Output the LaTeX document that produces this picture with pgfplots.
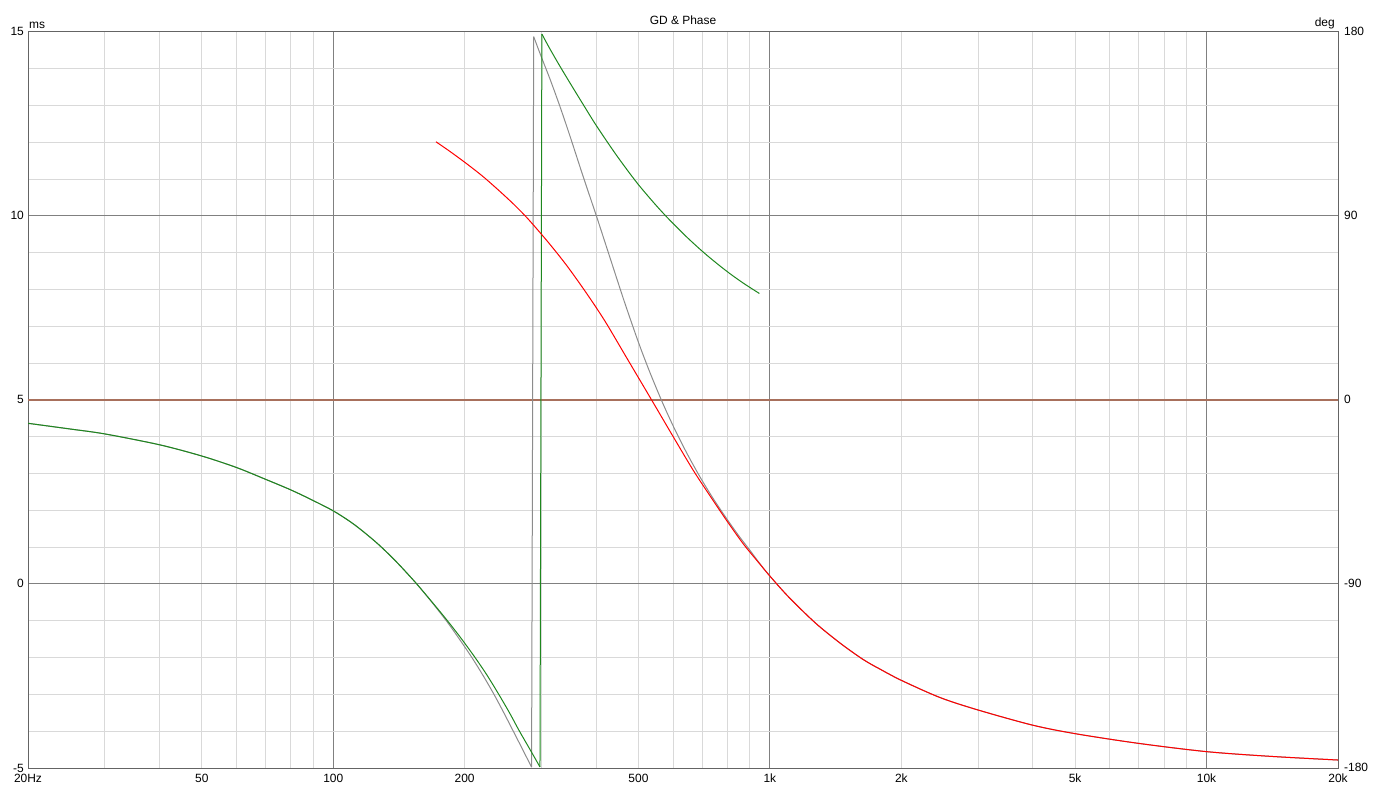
\documentclass[border=0pt]{standalone}
\usepackage{pgfplots}
\pgfplotsset{compat=1.18}
\usepackage{fontspec}
\setmainfont{Liberation Sans}
\definecolor{majgrid}{RGB}{128,128,128}
\definecolor{mingrid}{RGB}{217,217,217}
\definecolor{framec}{RGB}{100,100,100}
\definecolor{phgreen}{RGB}{30,135,30}
\definecolor{phgray}{RGB}{140,140,140}
\definecolor{phred}{RGB}{255,0,0}
\definecolor{brownline}{RGB}{168,112,92}
\begin{document}
\begin{tikzpicture}[font=\fontsize{12}{14}\selectfont]
\path[use as bounding box] (0,0) rectangle (1373bp,806bp);
\begin{axis}[name=main,
  at={(28bp,38bp)}, anchor=south west, scale only axis, width=1310bp, height=736bp,
  xmode=log, xmin=20, xmax=20000, ymin=-5, ymax=15,
  xtick={100,1000,10000}, xticklabels={,,},
  minor xtick={30,40,50,60,70,80,90,200,300,400,500,600,700,800,900,2000,3000,4000,5000,6000,7000,8000,9000},
  extra x ticks={20,50,100,200,500,1000,2000,5000,10000,20000},
  extra x tick labels={20Hz,50,100,200,500,1k,2k,5k,10k,20k},
  extra x tick style={grid=none},
  ytick={-5,0,5,10,15}, yticklabels={-5,0,5,10,15},
  minor ytick={-4,-3,-2,-1,1,2,3,4,6,7,8,9,11,12,13,14},
  grid=both,
  major grid style={draw=majgrid, line width=1bp},
  minor grid style={draw=mingrid, line width=1bp},
  tick style={draw=none}, major tick length=0pt, minor tick length=0pt,
  axis line style={draw=framec, line width=1bp},
  xticklabel style={anchor=base, inner sep=0pt, yshift=-14bp},
  yticklabel style={anchor=base east, inner sep=0pt, xshift=-4bp, yshift=-4bp},
]
\addplot[draw=none] coordinates {(20,0)(20000,0)};
\end{axis}
\begin{axis}[
  at={(28bp,38bp)}, anchor=south west, scale only axis, width=1310bp, height=736bp,
  xmode=log, xmin=20, xmax=20000, ymin=-180, ymax=180,
  xtick=\empty, ytick={-180,-90,0,90,180}, yticklabels={-180,-90,0,90,180},
  yticklabel pos=right, axis line style={draw=none}, tick style={draw=none}, major tick length=0pt,
  yticklabel style={anchor=base west, inner sep=0pt, xshift=6bp, yshift=-4bp},
]
\addplot[brownline, line width=1.8bp] coordinates {(20,0)(20000,0)};
% gray phase
\addplot[phgray, line width=1bp, smooth] coordinates {
(20,-11.4)(25,-14.2)(30,-16.6)(40,-21.9)(50,-27.4)(60,-33.0)(70,-38.8)(80,-44.0)(90,-49.2)(100.7,-54.6)(112,-61.1)(125.8,-69.9)(139,-78.8)(153.9,-89.0)
(167,-98.1)(181.9,-108.2)(195,-117.3)(208.4,-126.4)(221,-135.2)(234,-144.4)(246,-153.1)(259,-162.4)(272,-171.3)(284.6,-179.6)};
\addplot[phgray, line width=1bp] coordinates {(284.6,-179.6)(287.8,177.7)};
\addplot[phgray, line width=1bp, smooth] coordinates {
(287.8,177.7)(300,167.5)(313.6,157)(330,144)(348,129.5)(372,110.5)(401,89.7)(422,75.2)(445.7,59.6)(465.7,47.2)(499.6,28.4)(530,14.0)(565,-0.3)(600.8,-12.8)(645,-25.9)(691.6,-37.6)(740,-47.9)(796,-58.0)(850,-66.6)(900,-73.5)(948,-80.0)
(997,-85.8)(1100,-96)(1270,-109)(1450,-119)(1637,-127)(1800,-132)(2003,-137.2)(2450,-145.5)(2983,-151.5)(3989,-159)(5000,-163.2)(6958,-167.9)(10000,-172)(14000,-174.3)(20000,-176.1)};
% green phase
\addplot[phgreen, line width=1bp, smooth] coordinates {
(20,-11.4)(25,-14.2)(30,-16.6)(40,-21.9)(50,-27.4)(60,-33.0)(70,-38.8)(80,-44.0)(90,-49.2)(100.7,-54.6)(112,-61.1)(125.8,-69.9)(139,-78.8)(153.9,-89.0)
(167,-97.9)(181.9,-107.5)(196,-116.4)(211,-125.8)(225,-134.6)(238.8,-143.6)(253,-152.8)(267,-162.0)(282,-170.8)(297.5,-179.5)};
\addplot[phgreen, line width=1bp] coordinates {(297.5,-179.5)(300.5,179.0)};
\addplot[phgreen, line width=1bp, smooth] coordinates {
(300.5,179.0)(313,172.0)(330,163.5)(348,155.3)(372,145.2)(401,134.0)(445.7,119.6)(495,106.5)(540,96.9)(580,89.6)(640,80.4)(704,72.3)(760,66.4)(810,61.8)(870,57.1)(946,52.1)};
% red
\addplot[phred, line width=1bp, smooth] coordinates {
(171.9,126.3)(185,121.6)(202,115.6)(220,109.4)(240.9,102.0)(260,95.4)(279.8,88.4)(310,77.4)(342.5,65.8)(380,52.3)(419,38.6)(470,20.6)(536,0)(600,-17.8)(667.6,-34.4)(730,-47)(796,-58.9)(870,-70.5)(948,-80.2)(997,-85.8)(1100,-96)(1270,-109)(1450,-119)(1637,-127)(1800,-132)(2003,-137.2)(2450,-145.5)(2983,-151.5)(3989,-159)(5000,-163.2)(6958,-167.9)(10000,-172)(14000,-174.3)(20000,-176.1)};
\end{axis}
\node[anchor=base west, inner sep=0pt] at ([xshift=1bp, yshift=3bp]main.north west) {ms};
\node[anchor=base east, inner sep=0pt] at ([xshift=-3bp, yshift=5bp]main.north east) {deg};
\node[anchor=base, inner sep=0pt] at ([yshift=7bp]main.north) {GD \& Phase};
\end{tikzpicture}
\end{document}
